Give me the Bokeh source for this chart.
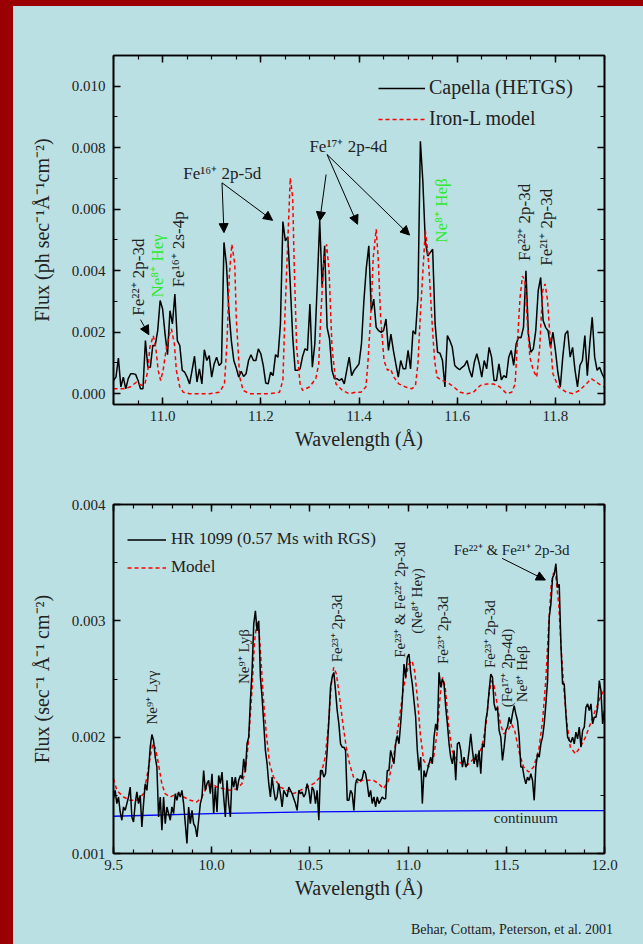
import numpy as np
from bokeh.plotting import figure
from bokeh.layouts import column
from bokeh.models import (Range1d, LinearAxis, FixedTicker, NumeralTickFormatter,
                          Legend, LegendItem, Arrow, NormalHead, Div)
from bokeh.core.properties import value
from bokeh.embed import file_html
from bokeh.resources import INLINE

FONT = "Liberation Serif"
BG = "#bbe0e3"
EDGE = "#9a0000"
GREEN = "#2ee82e"

# ---------------- Capella (HETGS), 10.9-11.9 A, 0.005 A bins ----------------
capella_start, capella_step = 10.900, 0.005
capella_flux_e3 = [
    0.43, 0.54, 1.16, 0.22, 0.54, 0.16, 0.49, 0.65, 0.65, 0.63,
    0.43, 0.16, 0.16, 1.73, 0.86, 0.86, 1.57, 1.57, 2.05, 3.03,
    2.76, 1.94, 1.27, 2.70, 2.27, 3.24, 1.73, 1.57, 0.76, 0.70,
    0.54, 0.32, 0.76, 1.22, 0.38, 0.81, 0.32, 1.43, 1.08, 1.24,
    0.54, 0.97, 1.19, 0.92, 1.00, 4.92, 4.21, 2.70, 1.73, 1.08,
    0.84, 0.54, 0.73, 0.56, 0.65, 1.08, 1.27, 1.08, 1.08, 1.46,
    1.30, 0.92, 0.35, 0.32, 0.70, 0.59, 1.27, 1.19, 2.27, 5.60,
    4.97, 5.10, 3.57, 1.84, 0.76, 0.76, 0.81, 1.21, 1.46, 1.41,
    2.92, 0.86, 1.62, 3.57, 5.62, 3.46, 4.81, 2.16, 1.78, 0.76,
    0.49, 0.49, 0.43, 0.49, 0.32, 0.76, 1.19, 0.59, 0.76, 0.86,
    0.97,
    1.62, 3.03, 4.11, 4.81, 2.70, 3.08, 2.16, 2.05, 2.00, 2.05,
    2.43, 1.41, 1.94, 1.41, 0.97, 0.54, 1.08, 0.81, 0.81, 1.41,
    0.81, 2.05, 1.94, 3.13, 8.21, 6.92, 4.97, 4.48, 4.59, 4.70,
    2.27, 1.35, 1.32, 1.08, 0.22, 1.89, 1.73, 1.51, 0.92, 0.84,
    0.78, 0.86, 0.92, 1.08, 0.76, 0.54, 1.03, 1.30, 0.97, 0.54,
    1.08, 0.81, 1.51, 1.19, 0.43, 0.43, 0.97, 0.45, 0.59, 0.52,
    1.19, 1.41, 0.92, 1.62, 1.84, 1.82, 2.16, 4.00, 1.94, 1.35,
    1.46, 2.05, 3.35, 3.78, 2.38, 2.16, 2.05, 1.51, 2.00, 1.41,
    0.70, 0.22, 1.19, 1.94, 2.05, 1.19, 1.51, 0.76, 0.22, 0.92,
    1.08, 1.89, 0.59, 1.62, 2.49, 1.19, 0.76, 0.86, 0.65, 0.49,
]

# ---------------- Iron-L model ----------------
ironl_wl = [
    10.900, 10.920, 10.934, 10.947, 10.957, 10.964, 10.970, 10.974, 10.981, 10.986,
    10.991, 10.996, 11.001, 11.007, 11.014, 11.018, 11.024, 11.028, 11.035, 11.042,
    11.055, 11.096, 11.116, 11.126, 11.131, 11.136, 11.141, 11.147, 11.150, 11.157,
    11.164, 11.177, 11.218, 11.238, 11.245, 11.249, 11.255, 11.260, 11.265, 11.268,
    11.273, 11.280, 11.285, 11.299, 11.312, 11.318, 11.322, 11.328, 11.334, 11.339,
    11.345, 11.353, 11.366, 11.380, 11.393,
    11.404, 11.414, 11.418, 11.424, 11.429, 11.435, 11.439, 11.444, 11.451, 11.458,
    11.464, 11.471, 11.481, 11.495, 11.508, 11.515, 11.520, 11.525, 11.531, 11.535,
    11.540, 11.544, 11.549, 11.554, 11.559, 11.569, 11.579, 11.593, 11.606, 11.620,
    11.633, 11.647, 11.660, 11.674, 11.687, 11.701, 11.711, 11.718, 11.722, 11.728,
    11.733, 11.738, 11.743, 11.748, 11.755, 11.762, 11.768, 11.774, 11.779, 11.784,
    11.789, 11.795, 11.806, 11.822, 11.836, 11.849, 11.863, 11.873, 11.883, 11.893,
    11.900,
]
ironl_flux_e3 = [
    0.16, 0.16, 0.22, 0.38, 0.27, 0.32, 0.76, 1.51, 1.89, 1.51,
    0.76, 0.43, 0.76, 1.41, 1.94, 2.11, 1.62, 0.76, 0.22, 0.05,
    0.00, 0.00, 0.05, 0.32, 1.62, 3.89, 4.86, 4.21, 2.49, 0.54,
    0.11, 0.00, 0.00, 0.05, 0.43, 2.49, 4.97, 7.02, 6.38, 4.21,
    1.51, 0.32, 0.11, 0.22, 0.49, 0.97, 2.49, 4.21, 4.86, 4.00,
    1.51, 0.32, 0.11, 0.00, 0.05,
    0.05, 0.22, 0.97, 2.59, 4.43, 5.35, 4.43, 2.49, 1.08, 0.76,
    0.81, 0.54, 0.32, 0.22, 0.16, 0.27, 0.97, 2.59, 4.21, 5.30,
    4.65, 3.67, 2.27, 1.08, 0.54, 0.43, 0.38, 0.22, 0.05, 0.00,
    0.05, 0.27, 0.32, 0.32, 0.22, 0.00, 0.05, 0.32, 1.51, 3.13,
    3.83, 3.67, 2.27, 1.19, 0.76, 0.54, 1.51, 3.35, 3.57, 3.03,
    1.84, 0.65, 0.22, 0.05, 0.00, 0.11, 0.32, 0.49, 0.38, 0.27,
    0.22,
]

# ---------------- HR 1099 (RGS), 9.5-12.0 A ----------------
hr_start, hr_step = 9.500, 0.0085
hr_flux_e3 = [
    1.471, 1.543, 1.429, 1.486, 1.357, 1.286, 1.400, 1.371, 1.429, 1.486,
    1.571, 1.314, 1.271, 1.429, 1.529, 1.429, 1.500, 1.229, 1.429, 1.600,
    1.543, 1.714, 1.914, 2.023, 1.971, 1.829, 1.743, 1.314, 1.486, 1.200,
    1.486, 1.257, 1.400, 1.343, 1.286, 1.400, 1.343, 1.514, 1.457, 1.529,
    1.486, 1.543, 1.429, 1.257, 1.086, 1.400, 1.257, 1.371, 1.257, 1.229,
    1.143, 1.286, 1.429, 1.486, 1.714, 1.543, 1.600, 1.629, 1.514, 1.686,
    1.343, 1.571, 1.357, 1.671, 1.600, 1.700, 1.486, 1.314, 1.629, 1.429,
    1.314, 1.657, 1.571, 1.657, 1.543, 1.629, 1.671, 1.643, 1.814, 1.700,
    1.943, 2.000, 2.314, 2.571, 2.971, 3.086, 2.914, 3.000, 2.514, 2.343,
    2.114, 1.886, 1.771, 1.600, 1.486, 1.657, 1.543, 1.457, 1.486, 1.600,
    1.514, 1.400, 1.543, 1.514, 1.486, 1.571, 1.543, 1.514, 1.471, 1.429,
    1.371, 1.543, 1.514, 1.529, 1.486, 1.514, 1.600, 1.543, 1.429, 1.571,
    1.543, 1.429, 1.543, 1.286, 1.714, 1.714, 1.657, 1.686, 1.886, 2.143,
    2.429, 2.514, 2.557, 2.400, 2.229, 2.114, 1.943, 1.914, 1.914, 1.886,
    1.457, 1.457, 1.543, 1.514, 1.371, 1.600, 1.643, 1.629, 1.629, 1.643,
    1.714, 1.686, 1.600, 1.486, 1.543, 1.429, 1.486, 1.400, 1.486, 1.429,
    1.457, 1.486, 1.471, 1.471, 1.714, 1.714, 1.886, 1.829, 1.771, 1.943,
    2.014, 1.943, 2.114, 2.314, 2.629, 2.514, 2.686, 2.714, 2.557, 2.457,
    2.314, 2.171, 1.886, 1.714, 1.829, 1.429, 1.714, 1.657, 1.714, 1.771,
    1.829, 1.771, 2.000, 2.114, 2.057, 2.557, 2.429, 2.500, 2.457, 2.257,
    2.114, 1.943, 1.829, 1.771, 1.886, 1.629, 1.943, 1.957, 1.886, 1.743,
    1.829, 1.743, 1.771, 1.886, 2.029, 1.886, 1.771, 1.857, 1.743, 1.886,
    1.686, 1.943, 1.914, 2.143, 2.229, 2.400, 2.543, 2.514, 2.286, 2.229,
    2.257, 2.057, 2.000, 1.800, 1.914, 2.057, 2.086, 2.171, 2.114, 2.200,
    2.271, 2.200, 2.143, 2.000, 1.743, 1.743, 1.657, 1.600, 1.657, 1.629,
    1.686, 1.629, 1.457, 1.743, 1.857, 1.829, 1.943, 2.000, 2.114, 2.286,
    2.486, 3.029, 3.143, 3.371, 3.400, 3.491, 3.286, 3.314, 2.800, 2.457,
    2.457, 2.200, 2.000, 1.971, 1.957, 2.000, 1.943, 2.043, 1.986, 2.086,
    1.914, 2.057, 2.086, 2.257, 2.286, 2.229, 2.286, 2.114, 2.171, 2.171,
    2.257, 2.486, 2.400, 2.114, 2.229,
]

# ---------------- HR 1099 model ----------------
hrmod_wl = [
    9.500, 9.517, 9.551, 9.585, 9.619, 9.653, 9.670, 9.687, 9.700, 9.712,
    9.729, 9.746, 9.763, 9.789, 9.823, 9.857, 9.891, 9.924, 9.950, 9.975,
    10.001, 10.026, 10.060, 10.094, 10.128, 10.154, 10.171, 10.188, 10.205, 10.217,
    10.230, 10.240, 10.250, 10.264, 10.278, 10.295, 10.315, 10.349, 10.383, 10.417,
    10.451, 10.485, 10.519, 10.553, 10.578, 10.595, 10.609, 10.621, 10.635, 10.651,
    10.668, 10.685, 10.702, 10.722, 10.748,
    10.765, 10.799, 10.824, 10.850, 10.875, 10.901, 10.926, 10.952, 10.977, 11.003,
    11.020, 11.033, 11.047, 11.062, 11.079, 11.105, 11.130, 11.147, 11.164, 11.176,
    11.189, 11.206, 11.223, 11.249, 11.274, 11.300, 11.325, 11.351, 11.376, 11.397,
    11.410, 11.424, 11.436, 11.453, 11.470, 11.487, 11.509, 11.526, 11.543, 11.563,
    11.588, 11.614, 11.639, 11.665, 11.685, 11.702, 11.716, 11.729, 11.741, 11.753,
    11.767, 11.780, 11.794, 11.809, 11.826, 11.852, 11.877, 11.903, 11.928, 11.953,
    11.979, 11.996,
]
hrmod_flux_e3 = [
    1.643, 1.543, 1.486, 1.457, 1.457, 1.514, 1.657, 1.829, 1.943, 1.914,
    1.771, 1.600, 1.514, 1.486, 1.514, 1.486, 1.457, 1.443, 1.486, 1.571,
    1.600, 1.571, 1.557, 1.543, 1.557, 1.600, 1.714, 1.971, 2.400, 2.800,
    3.000, 2.943, 2.686, 2.314, 2.029, 1.771, 1.657, 1.571, 1.543, 1.514,
    1.543, 1.571, 1.600, 1.657, 1.829, 2.114, 2.457, 2.600, 2.543, 2.343,
    2.114, 1.914, 1.771, 1.657, 1.600,
    1.629, 1.629, 1.629, 1.600, 1.557, 1.629, 1.829, 2.114, 2.429, 2.629,
    2.657, 2.571, 2.343, 2.029, 1.800, 1.743, 1.829, 2.029, 2.371, 2.514,
    2.429, 2.114, 1.886, 1.800, 1.771, 1.757, 1.800, 1.829, 1.914, 2.114,
    2.343, 2.486, 2.457, 2.286, 2.114, 2.029, 2.057, 2.114, 2.057, 1.886,
    1.743, 1.700, 1.743, 1.886, 2.143, 2.514, 2.971, 3.314, 3.414, 3.371,
    3.143, 2.743, 2.400, 2.114, 1.914, 1.857, 1.914, 2.000, 2.114, 2.229,
    2.343, 2.400,
]

continuum_wl = [9.5, 10.0, 10.5, 11.0, 11.5, 12.0]
continuum_flux_e3 = [1.320, 1.343, 1.357, 1.364, 1.368, 1.369]

# ---------------- line identifications ----------------
top_vlabels = ["Fe\u00b2\u00b2\u207a 2p-3d", "Fe\u00b9\u2076\u207a 2s-4p",
               "Fe\u00b2\u00b2\u207a 2p-3d", "Fe\u00b2\u00b9\u207a 2p-3d"]
top_vlabel_wl = [10.951, 11.032, 11.738, 11.782]
top_vlabel_f = [2.54, 3.46, 4.32, 4.16]
top_green = ["Ne\u2078\u207a He\u03b3", "Ne\u2078\u207a He\u03b2"]
top_green_wl = [10.989, 11.569]
top_green_f = [3.13, 4.91]

bot_vlabels = ["Ne\u2079\u207a Ly\u03b3", "Ne\u2079\u207a Ly\u03b2", "Fe\u00b2\u00b3\u207a 2p-3d",
               "Fe\u00b2\u00b3\u207a 2p-3d", "Fe\u00b2\u00b3\u207a 2p-3d",
               "(Fe\u00b9\u2077\u207a 2p-4d)", "Ne\u2078\u207a He\u03b2"]
bot_vlabel_wl = [9.696, 10.162, 10.638, 11.176, 11.419, 11.504, 11.580]
bot_vlabel_f = [2.109, 2.457, 2.643, 2.629, 2.594, 2.257, 2.300]
bot_clabels = ["Fe\u00b2\u00b3\u207a & Fe\u00b2\u00b2\u207a 2p-3d", "(Ne\u2078\u207a He\u03b3)"]
bot_clabel_wl = [10.960, 11.046]
bot_clabel_f = [3.18, 3.17]


def style_axis(ax, show_labels=True):
    ax.axis_line_width = 1.6
    ax.axis_line_color = "black"
    ax.major_tick_in = 7
    ax.major_tick_out = 0
    ax.minor_tick_in = 4
    ax.minor_tick_out = 0
    ax.major_tick_line_width = 1.5
    ax.minor_tick_line_width = 1.2
    ax.major_label_text_font = FONT
    ax.major_label_text_font_size = "15px"
    ax.major_label_text_color = "#222222"
    ax.axis_label_text_font = FONT
    ax.axis_label_text_font_size = "20px"
    ax.axis_label_text_font_style = "normal"
    ax.axis_label_text_color = "#222222"
    if not show_labels:
        ax.major_label_text_font_size = "0px"
        ax.major_label_text_color = None


def make_fig(xr, yr, height, borders, xticker, yticker, xlabel, ylabel):
    p = figure(width=623, height=height, x_range=Range1d(*xr), y_range=Range1d(*yr),
               output_backend="svg", toolbar_location=None,
               min_border_left=borders[0], min_border_right=borders[1],
               min_border_top=borders[2], min_border_bottom=borders[3],
               background_fill_color=BG, border_fill_color=BG,
               outline_line_color="black", outline_line_width=1.6)
    p.grid.visible = False
    p.xaxis.ticker = xticker
    p.yaxis.ticker = yticker
    p.xaxis.formatter = NumeralTickFormatter(format="0.0")
    p.yaxis.formatter = NumeralTickFormatter(format="0.000")
    p.xaxis.axis_label = xlabel
    p.yaxis.axis_label = ylabel
    for ax in p.xaxis + p.yaxis:
        style_axis(ax)
    p.xaxis.major_label_standoff = 6
    p.xaxis.axis_label_standoff = 4
    p.yaxis.major_label_standoff = 8
    p.yaxis.axis_label_standoff = 16
    top = LinearAxis(ticker=xticker)
    right = LinearAxis(ticker=yticker)
    style_axis(top, False)
    style_axis(right, False)
    p.add_layout(top, "above")
    p.add_layout(right, "right")
    return p


def arrow(p, x0, y0, x1, y1):
    p.add_layout(Arrow(end=NormalHead(size=9, fill_color="black", line_color="black", line_width=1),
                       x_start=x0, y_start=y0 * 1e-3, x_end=x1, y_end=y1 * 1e-3,
                       line_color="black", line_width=1))


# ================= upper panel: Capella =================
xt1 = FixedTicker(ticks=[11.0, 11.2, 11.4, 11.6, 11.8],
                  minor_ticks=list(np.round(np.arange(10.9, 11.901, 0.05), 3)))
yt1 = FixedTicker(ticks=[0.0, 0.002, 0.004, 0.006, 0.008, 0.010],
                  minor_ticks=list(np.round(np.arange(0.0, 0.0111, 0.001), 4)))
p1 = make_fig((10.9, 11.9), (-0.00035, 0.011), 470, (100, 29, 49, 72), xt1, yt1,
              "Wavelength (\u00c5)", "Flux (ph sec\u207b\u00b9\u00c5\u207b\u00b9cm\u207b\u00b2)")

cap_wl = capella_start + capella_step * np.arange(len(capella_flux_e3))
r_cap = p1.line(cap_wl, np.array(capella_flux_e3) * 1e-3, line_color="black", line_width=1.5)
r_fe = p1.line(ironl_wl, np.array(ironl_flux_e3) * 1e-3, line_color="red", line_width=1.5,
               line_dash="4 3")

leg1 = Legend(items=[LegendItem(label="Capella (HETGS)", renderers=[r_cap]),
                     LegendItem(label="Iron-L model", renderers=[r_fe])],
              location=(265, 274), background_fill_alpha=0, border_line_color=None,
              label_text_font=FONT, label_text_font_size="20px", label_text_color="#222222",
              glyph_width=47, glyph_height=20, label_height=20, spacing=8,
              padding=0, margin=0, label_standoff=4)
p1.add_layout(leg1)

p1.text(x=top_vlabel_wl, y=np.array(top_vlabel_f) * 1e-3, text=top_vlabels, angle=np.pi / 2,
        text_font=value(FONT), text_font_size=value("17px"), text_color="#222222",
        text_align="left", text_baseline="middle")
p1.text(x=top_green_wl, y=np.array(top_green_f) * 1e-3, text=top_green, angle=np.pi / 2,
        text_font=value(FONT), text_font_size=value("17px"), text_color=GREEN,
        text_align="left", text_baseline="middle")
p1.text(x=[11.042, 11.299], y=[7.15e-3, 8.05e-3],
        text=["Fe\u00b9\u2076\u207a 2p-5d", "Fe\u00b9\u2077\u207a 2p-4d"],
        text_font=value(FONT), text_font_size=value("17px"), text_color="#222222",
        text_align="left", text_baseline="middle")

arrow(p1, 10.955, 2.41, 10.972, 1.92)
arrow(p1, 11.121, 6.86, 11.125, 5.24)
arrow(p1, 11.121, 6.86, 11.224, 5.64)
arrow(p1, 11.333, 7.13, 11.320, 5.62)
arrow(p1, 11.335, 7.78, 11.397, 5.51)
arrow(p1, 11.335, 7.78, 11.503, 5.16)

# ================= lower panel: HR 1099 =================
xt2 = FixedTicker(ticks=[9.5, 10.0, 10.5, 11.0, 11.5, 12.0],
                  minor_ticks=list(np.round(np.arange(9.5, 12.001, 0.1), 2)))
yt2 = FixedTicker(ticks=[0.001, 0.002, 0.003, 0.004],
                  minor_ticks=list(np.round(np.arange(0.001, 0.00401, 0.0005), 4)))
p2 = make_fig((9.5, 12.0), (0.001, 0.004), 436, (100, 32, 28, 59), xt2, yt2,
              "Wavelength (\u00c5)", "Flux (sec\u207b\u00b9 \u00c5\u207b\u00b9 cm\u207b\u00b2)")

hr_wl = hr_start + hr_step * np.arange(len(hr_flux_e3))
r_cont = p2.line(continuum_wl, np.array(continuum_flux_e3) * 1e-3, line_color="#0000ff", line_width=1.3)
r_hrm = p2.line(hrmod_wl, np.array(hrmod_flux_e3) * 1e-3, line_color="red", line_width=1.5,
                line_dash="4 3")
r_hr = p2.line(hr_wl, np.array(hr_flux_e3) * 1e-3, line_color="black", line_width=1.5)

leg2 = Legend(items=[LegendItem(label="HR 1099 (0.57 Ms with RGS)", renderers=[r_hr]),
                     LegendItem(label="Model", renderers=[r_hrm])],
              location=(14, 276), background_fill_alpha=0, border_line_color=None,
              label_text_font=FONT, label_text_font_size="17px", label_text_color="#222222",
              glyph_width=39, glyph_height=17, label_height=17, spacing=8,
              padding=0, margin=0, label_standoff=5)
p2.add_layout(leg2)

p2.text(x=bot_vlabel_wl, y=np.array(bot_vlabel_f) * 1e-3, text=bot_vlabels, angle=np.pi / 2,
        text_font=value(FONT), text_font_size=value("15px"), text_color="#222222",
        text_align="left", text_baseline="middle")
p2.text(x=bot_clabel_wl, y=np.array(bot_clabel_f) * 1e-3, text=bot_clabels, angle=np.pi / 2,
        text_font=value(FONT), text_font_size=value("15px"), text_color="#222222",
        text_align="center", text_baseline="middle")
p2.text(x=[11.232], y=[3.608e-3], text=["Fe\u00b2\u00b2\u207a & Fe\u00b2\u00b9\u207a 2p-3d"],
        text_font=value(FONT), text_font_size=value("15px"), text_color="#222222",
        text_align="left", text_baseline="middle")
p2.text(x=[11.436], y=[1.301e-3], text=["continuum"],
        text_font=value(FONT), text_font_size=value("15px"), text_color="#222222",
        text_align="left", text_baseline="middle")
arrow(p2, 11.479, 3.537, 11.699, 3.351)

credit = Div(text="Behar, Cottam, Peterson, et al. 2001", width=623, height=32,
             styles={"background-color": BG, "font-family": FONT, "font-size": "14px",
                     "color": "#222222", "text-align": "right", "padding-right": "28px",
                     "padding-top": "3px", "box-sizing": "border-box"})

page = column(p1, p2, credit, spacing=0,
              styles={"background-color": BG,
                      "border-left": "13px solid " + EDGE,
                      "border-top": "6px solid " + EDGE,
                      "border-right": "7px solid " + EDGE})

open("out.html", "w").write(file_html(page, INLINE))
